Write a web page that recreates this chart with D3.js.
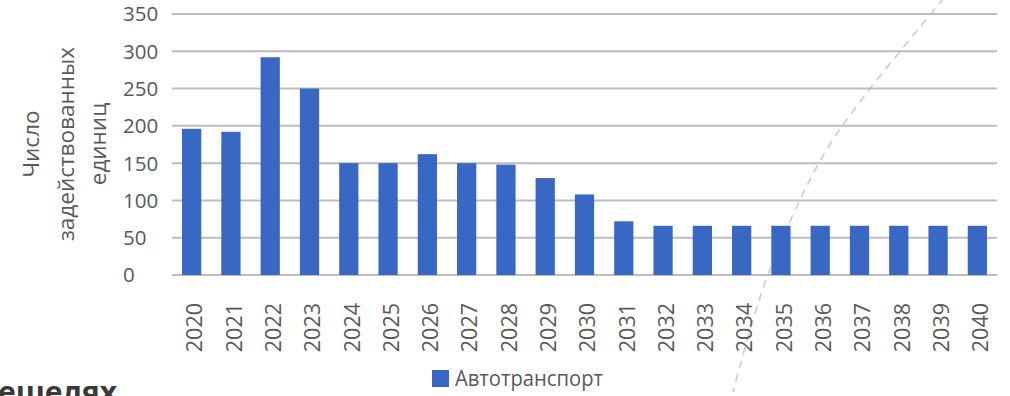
<!DOCTYPE html>
<html>
<head>
<meta charset="utf-8">
<script src="https://cdn.jsdelivr.net/npm/d3@7/dist/d3.min.js"></script>
<style>
  html, body { margin: 0; padding: 0; background: #ffffff; }
  svg { display: block; }
  text { font-family: "Open Sans", "Noto Sans", sans-serif; fill: #595959; }
</style>
</head>
<body>
<svg id="chart" width="1010" height="396"></svg>
<script>
// ---- data ----
const years = ["2020","2021","2022","2023","2024","2025","2026","2027","2028","2029","2030",
               "2031","2032","2033","2034","2035","2036","2037","2038","2039","2040"];
const vehicles = [196, 192, 292, 250, 150, 150, 162, 150, 148, 130, 108,
                  72, 66, 66, 66, 66, 66, 66, 66, 66, 66];
const yTicks = [0, 50, 100, 150, 200, 250, 300, 350];
const seriesName = "Автотранспорт";
const yTitleLines = ["Число", "задействованных", "единиц"];
const fragmentText = "ешелях";

// ---- layout ----
const svg = d3.select("#chart");
const plotLeft = 172, plotRight = 997, plotTop = 14, plotBottom = 275;
const barColor = "#3867c4";

const x = d3.scaleBand().domain(years).range([plotLeft, plotRight])
  .paddingInner(0.51).paddingOuter(0.255);
const y = d3.scaleLinear().domain([0, 350]).range([plotBottom, plotTop]);

// decorative dashed arc from the slide background
const deco = [[944, -2], [850, 115], [815, 170], [766, 280], [733, 392]];
svg.append("path")
  .attr("d", d3.line().curve(d3.curveCatmullRom)(deco))
  .attr("fill", "none").attr("stroke", "#cdcdcd")
  .attr("stroke-width", 1.6).attr("stroke-dasharray", "8,6");

// gridlines
svg.append("g").selectAll("line").data(yTicks).join("line")
  .attr("x1", plotLeft).attr("x2", plotRight)
  .attr("y1", d => y(d)).attr("y2", d => y(d))
  .attr("stroke", "#bdbdbd").attr("stroke-width", 2);

// y tick labels (left aligned)
svg.append("g").selectAll("text").data(yTicks).join("text")
  .attr("x", 123).attr("y", d => y(d)).attr("dy", "0.36em")
  .attr("font-size", 20.5).attr("text-anchor", "start")
  .text(d => d);

// bars
svg.append("g").selectAll("rect").data(vehicles).join("rect")
  .attr("x", (d, i) => x(years[i]))
  .attr("width", x.bandwidth())
  .attr("y", d => y(d))
  .attr("height", d => y(0) - y(d))
  .attr("fill", barColor);

// x tick labels (rotated)
svg.append("g").selectAll("text").data(years).join("text")
  .attr("transform", d => `translate(${x(d) + x.bandwidth() / 2 + 3},303) rotate(-90)`)
  .attr("dy", "0.36em").attr("text-anchor", "end")
  .attr("font-size", 21.5)
  .text(d => d);

// y title
const titleX = [31, 66, 98];
svg.append("g").selectAll("text").data(yTitleLines).join("text")
  .attr("transform", (d, i) => `translate(${titleX[i]},144) rotate(-90)`)
  .attr("dy", "0.36em").attr("text-anchor", "middle")
  .attr("font-size", 22.5)
  .text(d => d);

// legend
svg.append("rect").attr("x", 432).attr("y", 370).attr("width", 17).attr("height", 17)
  .attr("fill", barColor);
svg.append("text").attr("x", 455).attr("y", 386)
  .attr("font-size", 21).attr("textLength", 148).attr("lengthAdjust", "spacingAndGlyphs")
  .text(seriesName);

// cut-off fragment of slide text (cut by the picture edge in the reference too)
svg.append("text").attr("x", -2).attr("y", 403)
  .attr("font-size", 30).attr("font-weight", "bold")
  .style("fill", "#3a3a3a")
  .text(fragmentText);
</script>
</body>
</html>
